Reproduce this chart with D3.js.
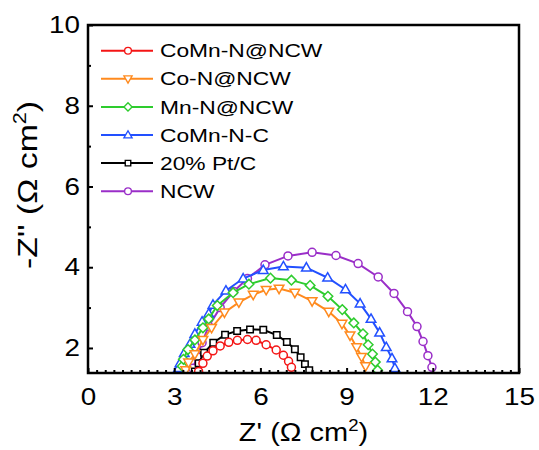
<!DOCTYPE html>
<html>
<head>
<meta charset="utf-8">
<script src="https://cdn.jsdelivr.net/npm/d3@7"></script>
<style>
  body { margin: 0; background: #fff; }
  text { font-family: 'Liberation Sans', Arial, sans-serif; fill: #000; }
</style>
</head>
<body>
<div id="vis"></div>
<script>
// data: [Z', -Z''] pairs
const CoMnN_NCW = [[3.85,1.42],[4.0,1.62],[4.15,1.8],[4.35,1.93],[4.6,2.05],[4.9,2.14],[5.2,2.19],[5.55,2.21],
  [5.85,2.19],[6.2,2.08],[6.55,1.95],[6.8,1.82],[6.98,1.67],[7.08,1.52]];
const CoN_NCW = [[3.4,1.45],[3.5,1.64],[3.72,1.85],[4.0,2.2],[4.3,2.5],[4.75,2.88],[5.25,3.13],[5.75,3.32],
  [6.2,3.44],[6.65,3.47],[7.2,3.37],[7.8,3.16],[8.38,2.9],[8.84,2.6],[9.12,2.31],[9.35,2.02],[9.52,1.78],[9.66,1.55]];
const MnN_NCW = [[3.28,1.55],[3.32,1.72],[3.48,1.96],[3.72,2.2],[4.0,2.5],[4.2,2.72],[4.5,3.05],[5.05,3.37],
  [5.6,3.58],[6.35,3.73],[7.08,3.68],[7.73,3.55],[8.35,3.28],[8.85,2.95],[9.25,2.62],[9.57,2.35],[9.75,2.08],
  [9.9,1.85],[10.0,1.65],[10.08,1.45]];
const CoMnN_C = [[3.15,1.5],[3.2,1.62],[3.35,1.87],[3.55,2.1],[3.72,2.35],[3.97,2.65],[4.2,2.85],[4.35,3.07],
  [4.8,3.42],[5.4,3.72],[6.1,3.93],[6.8,4.02],[7.6,3.99],[8.34,3.74],[8.96,3.45],[9.47,3.1],[9.85,2.72],
  [10.15,2.38],[10.38,2.02],[10.58,1.74],[10.68,1.5]];
const PtC = [[3.72,1.42],[3.85,1.62],[4.04,1.88],[4.36,2.13],[4.77,2.33],[5.19,2.42],[5.64,2.46],[6.1,2.45],
  [6.57,2.32],[6.92,2.15],[7.2,1.97],[7.4,1.77],[7.55,1.6],[7.7,1.45]];
const NCW = [[3.65,1.5],[3.8,1.78],[3.97,2.13],[4.2,2.54],[4.6,3.0],[5.07,3.4],[5.55,3.72],[6.16,4.06],
  [6.96,4.28],[7.8,4.37],[8.63,4.29],[9.4,4.09],[10.1,3.76],[10.65,3.35],[11.12,2.9],[11.45,2.53],
  [11.66,2.16],[11.83,1.81],[11.97,1.52]];

const NAMES = ['CoMn-N@NCW', 'Co-N@NCW', 'Mn-N@NCW', 'CoMn-N-C', '20% Pt/C', 'NCW'];
const SERIES = [CoMnN_NCW, CoN_NCW, MnN_NCW, CoMnN_C, PtC, NCW];
const COLORS = ['#f41515', '#ff8a1e', '#2ecc2e', '#2250ff', '#000000', '#9a2ec8'];
const SYMBOLS = ['circle', 'down', 'diamond', 'up', 'square', 'circle'];

const X_TICKS = [0, 3, 6, 9, 12, 15];
const Y_TICKS = [2, 4, 6, 8, 10];

// frame
const FRAME_WIDTH = 539;
const FRAME_HEIGHT = 450;
const MARGINS = {left: 88, right: 20, top: 25, bottom: 77};
const VIS_WIDTH = FRAME_WIDTH - MARGINS.left - MARGINS.right;
const VIS_HEIGHT = FRAME_HEIGHT - MARGINS.top - MARGINS.bottom;
const SX = 1.16; // text in the picture is a bit wider than normal

const FRAME = d3.select('#vis')
  .append('svg')
    .attr('width', FRAME_WIDTH)
    .attr('height', FRAME_HEIGHT);

const X_SCALE = d3.scaleLinear().domain([0, 15]).range([MARGINS.left, MARGINS.left + VIS_WIDTH]);
const Y_SCALE = d3.scaleLinear().domain([1.38, 10]).range([MARGINS.top + VIS_HEIGHT, MARGINS.top]);

// marker shapes
function symbolPath(type) {
  if (type === 'circle') return d3.symbol(d3.symbolCircle, 50)();
  if (type === 'square') return d3.symbol(d3.symbolSquare, 42)();
  if (type === 'diamond') return 'M0,-4.8L4.8,0L0,4.8L-4.8,0Z';
  if (type === 'up') return 'M0,-5L4.8,3.4L-4.8,3.4Z';
  return 'M0,5L4.8,-3.4L-4.8,-3.4Z';
}

FRAME.append('clipPath').attr('id', 'clip')
  .append('rect')
    .attr('x', MARGINS.left).attr('y', MARGINS.top)
    .attr('width', VIS_WIDTH).attr('height', VIS_HEIGHT + 1);

const PLOT = FRAME.append('g').attr('clip-path', 'url(#clip)');
const line = d3.line().x(d => X_SCALE(d[0])).y(d => Y_SCALE(d[1]));

// draw NCW first so the others sit on top like the original
const ORDER = [5, 4, 3, 2, 1, 0];
ORDER.forEach(i => {
  PLOT.append('path')
    .datum(SERIES[i])
    .attr('d', line)
    .attr('fill', 'none')
    .attr('stroke', COLORS[i])
    .attr('stroke-width', 2);
  PLOT.selectAll('.m' + i)
    .data(SERIES[i])
    .enter()
    .append('path')
      .attr('class', 'm' + i)
      .attr('d', symbolPath(SYMBOLS[i]))
      .attr('transform', d => 'translate(' + X_SCALE(d[0]) + ',' + Y_SCALE(d[1]) + ')')
      .attr('fill', '#fff')
      .attr('stroke', COLORS[i])
      .attr('stroke-width', 1.5);
});

// axes
const bottom = MARGINS.top + VIS_HEIGHT;
const xMinor = d3.range(0, 15.01, 0.3).filter(v => Math.abs(v / 3 - Math.round(v / 3)) > 0.01);
const yMinor = [3, 5, 7, 9];

FRAME.append('g')
  .attr('transform', 'translate(0,' + bottom + ')')
  .call(d3.axisBottom(X_SCALE).tickValues(xMinor).tickSize(-3).tickFormat(''));

const xAxis = FRAME.append('g')
  .attr('transform', 'translate(0,' + bottom + ')')
  .call(d3.axisBottom(X_SCALE).tickValues(X_TICKS).tickSize(-5).tickPadding(15).tickFormat(d3.format('d')));

FRAME.append('g')
  .attr('transform', 'translate(' + MARGINS.left + ',0)')
  .call(d3.axisLeft(Y_SCALE).tickValues(yMinor).tickSize(-3).tickFormat(''));

const yAxis = FRAME.append('g')
  .attr('transform', 'translate(' + MARGINS.left + ',0)')
  .call(d3.axisLeft(Y_SCALE).tickValues(Y_TICKS).tickSize(-5).tickPadding(7).tickFormat(d3.format('d')));

FRAME.selectAll('.domain').remove();
FRAME.selectAll('.tick line').attr('stroke', '#000').attr('stroke-width', 2);
[xAxis, yAxis].forEach(a => a.selectAll('text')
  .attr('font-size', '24px')
  .attr('font-family', "'Liberation Sans', Arial, sans-serif")
  .attr('fill', '#000')
  .attr('transform', 'scale(' + SX + ',1)'));

// box
FRAME.append('rect')
  .attr('x', MARGINS.left).attr('y', MARGINS.top)
  .attr('width', VIS_WIDTH).attr('height', VIS_HEIGHT)
  .attr('fill', 'none')
  .attr('stroke', '#000')
  .attr('stroke-width', 2.5);

// axis titles
const xt = FRAME.append('text')
  .attr('transform', 'translate(' + (MARGINS.left + VIS_WIDTH / 2) + ',441) scale(' + SX + ',1)')
  .attr('text-anchor', 'middle')
  .attr('font-size', '25px');
xt.append('tspan').text("Z' (\u03A9 cm");
xt.append('tspan').attr('font-size', '16px').attr('dy', '-10').text('2');
xt.append('tspan').attr('dy', '10').text(')');

const yt = FRAME.append('text')
  .attr('transform', 'translate(37,185) rotate(-90) scale(1.35,1.12)')
  .attr('text-anchor', 'middle')
  .attr('font-size', '25px');
yt.append('tspan').text("-Z'' (\u03A9 cm");
yt.append('tspan').attr('font-size', '16px').attr('dy', '-10').text('2');
yt.append('tspan').attr('dy', '10').text(')');

// legend
const LEG_X = 101;
const LEG_Y = 50.7;
const LEG_STEP = 28.1;
NAMES.forEach((name, i) => {
  const y = LEG_Y + i * LEG_STEP;
  FRAME.append('line')
    .attr('x1', LEG_X).attr('x2', LEG_X + 52)
    .attr('y1', y).attr('y2', y)
    .attr('stroke', COLORS[i])
    .attr('stroke-width', 2);
  FRAME.append('path')
    .attr('d', symbolPath(SYMBOLS[i]))
    .attr('transform', 'translate(' + (LEG_X + 27) + ',' + y + ') scale(0.85)')
    .attr('fill', '#fff')
    .attr('stroke', COLORS[i])
    .attr('stroke-width', 1.6);
  FRAME.append('text')
    .attr('transform', 'translate(' + (LEG_X + 59) + ',' + y + ') scale(1.2,1)')
    .attr('dy', '0.35em')
    .attr('font-size', '19px')
    .text(name);
});
</script>
</body>
</html>
